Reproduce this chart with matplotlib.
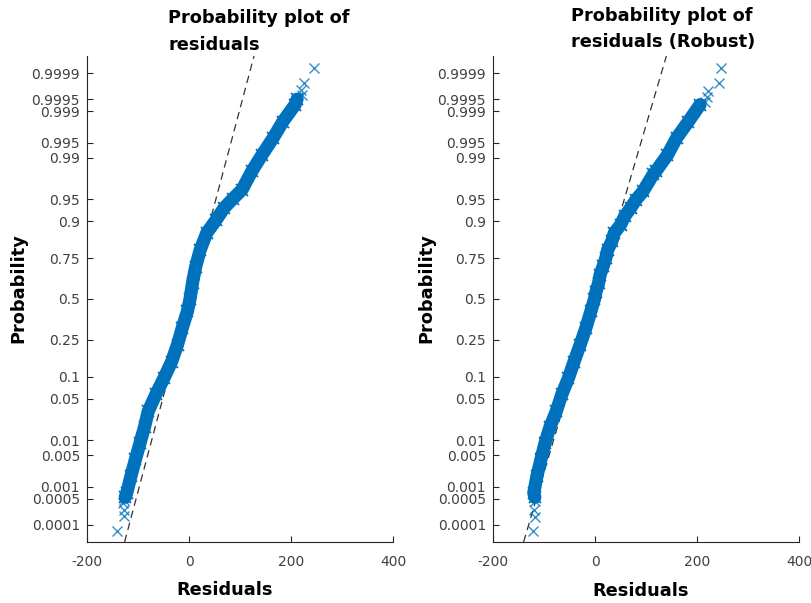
import numpy as np
import matplotlib
matplotlib.use("Agg")
import matplotlib.pyplot as plt
from statistics import NormalDist

plt.rcParams["font.family"] = "DejaVu Sans"
plt.rcParams["axes.unicode_minus"] = False

# residual quantiles (residual, plotting probability)
# left panel: ordinary residuals
left_band_res = [212, 208, 184, 165, 143, 123, 104, 86, 69, 53, 35, 22, 13, 7, 2,
                 -3, -13, -22.5, -34, -49, -65, -80, -87, -96, -105, -114, -122,
                 -125]
left_band_p = [0.99950, 0.99931, 0.99825, 0.99598, 0.99111, 0.98214, 0.96407,
               0.95053, 0.93319, 0.90320, 0.86214, 0.79103, 0.70194, 0.60642,
               0.5, 0.42074, 0.31918, 0.22663, 0.15151, 0.09680, 0.05821,
               0.03216, 0.01786, 0.00889, 0.00415, 0.00175, 0.00071, 0.00055]
left_tail_res = [246, 226, 219, 221, -127, -129, -127.5, -127.5, -141]
left_tail_p = [0.99993, 0.99981, 0.99971, 0.99961,
               0.00048, 0.00039, 0.00025, 0.00018, 0.000067]
left_ref_res = [-20.8, 22.0]   # reference line at the quartiles

# right panel: robust residuals
right_band_res = [206, 183, 160, 142, 119, 114, 94, 80, 70, 58, 50, 38, 33, 25,
                  21, 16, 10, 7, 2, -1, -8, -18, -29, -41, -52, -65, -76, -88,
                  -98, -106, -114, -120, -118]
right_band_p = [0.99931, 0.99825, 0.99598, 0.99111, 0.98214, 0.97982, 0.96164,
                0.94845, 0.93319, 0.91309, 0.88877, 0.86214, 0.82894, 0.79103,
                0.74857, 0.70540, 0.65542, 0.60257, 0.54776, 0.5, 0.42074,
                0.31561, 0.22663, 0.15151, 0.09680, 0.05821, 0.03216, 0.01786,
                0.00889, 0.00415, 0.00175, 0.00071, 0.00055]
right_tail_res = [247, 244, 222, 219, 216, -117.6, -119, -117.6, -121]
right_tail_p = [0.99993, 0.99981, 0.99970, 0.99957, 0.99942,
                0.00043, 0.00026, 0.00017, 0.000067]
right_ref_res = [-23.6, 23.6]

prob_ticks = [0.0001, 0.0005, 0.001, 0.005, 0.01, 0.05, 0.1, 0.25, 0.5,
              0.75, 0.9, 0.95, 0.99, 0.995, 0.999, 0.9995, 0.9999]
prob_labels = ["0.0001", "0.0005", "0.001", "0.005", "0.01", "0.05", "0.1",
               "0.25", "0.5", "0.75", "0.9", "0.95", "0.99", "0.995", "0.999",
               "0.9995", "0.9999"]

nd = NormalDist()
_inv = np.vectorize(nd.inv_cdf, otypes=[float])
_cdf = np.vectorize(nd.cdf, otypes=[float])


def to_z(p):
    p = np.clip(np.asarray(p, dtype=float), 1e-15, 1 - 1e-15)
    return _inv(p)


def to_p(z):
    return _cdf(np.asarray(z, dtype=float))


blue = (0, 0.447, 0.741)
W, H = 811, 603
fig = plt.figure(figsize=(W / 100, H / 100), dpi=100)

panels = [
    (87, left_band_res, left_band_p, left_tail_res, left_tail_p, left_ref_res,
     ("Probability plot of", "residuals"), 168, (23.3, 50), 18.5, 225, 590),
    (493, right_band_res, right_band_p, right_tail_res, right_tail_p, right_ref_res,
     ("Probability plot of", "residuals (Robust)"), 571, (20.7, 47), 426.5, 641, 591.5),
]

for (x0, b_res, b_p, t_res, t_p, ref, title, tx, tys, ylx, xlx, xly) in panels:
    ax = fig.add_axes([x0 / W, (H - 542) / H, 306 / W, 486 / H])
    ax.set_yscale("function", functions=(to_z, to_p))
    ax.set_xlim(-200, 400)
    ax.set_ylim(nd.cdf(-4), nd.cdf(4))

    ax.axline((ref[0], 0.25), (ref[1], 0.75), color="#333333", lw=0.9,
              dashes=(6, 4), zorder=1)
    ax.plot(b_res, b_p, color=blue, lw=9.5, solid_capstyle="round", zorder=2)
    ax.plot(b_res, b_p, ls="none", marker="x", ms=8, mew=1.3, color=blue, zorder=3)
    ax.plot(t_res, t_p, ls="none", marker="x", ms=7, mew=1.0, color=blue,
            alpha=0.8, zorder=3)

    ax.set_xticks([-200, 0, 200, 400])
    ax.set_yticks(prob_ticks)
    ax.set_yticklabels(prob_labels)
    ax.minorticks_off()
    ax.tick_params(direction="in", length=4, width=0.8, colors="#262626",
                   labelcolor="#404040", labelsize=10)
    ax.tick_params(axis="y", pad=5)
    ax.tick_params(axis="x", pad=9)
    for side in ("top", "right"):
        ax.spines[side].set_visible(False)
    for side in ("left", "bottom"):
        ax.spines[side].set_color("#262626")
        ax.spines[side].set_linewidth(0.8)

    fig.text(tx / W, 1 - tys[0] / H, title[0], ha="left", va="baseline",
             fontsize=12.8, fontweight="bold")
    fig.text(tx / W, 1 - tys[1] / H, title[1], ha="left", va="baseline",
             fontsize=12.8, fontweight="bold")
    fig.text(ylx / W, 1 - 288 / H, "Probability", rotation=90, ha="center",
             va="center", fontsize=12.8, fontweight="bold")
    fig.text(xlx / W, 1 - xly / H, "Residuals", ha="center", va="center",
             fontsize=12.8, fontweight="bold")

fig.savefig("out.png", dpi=100)
